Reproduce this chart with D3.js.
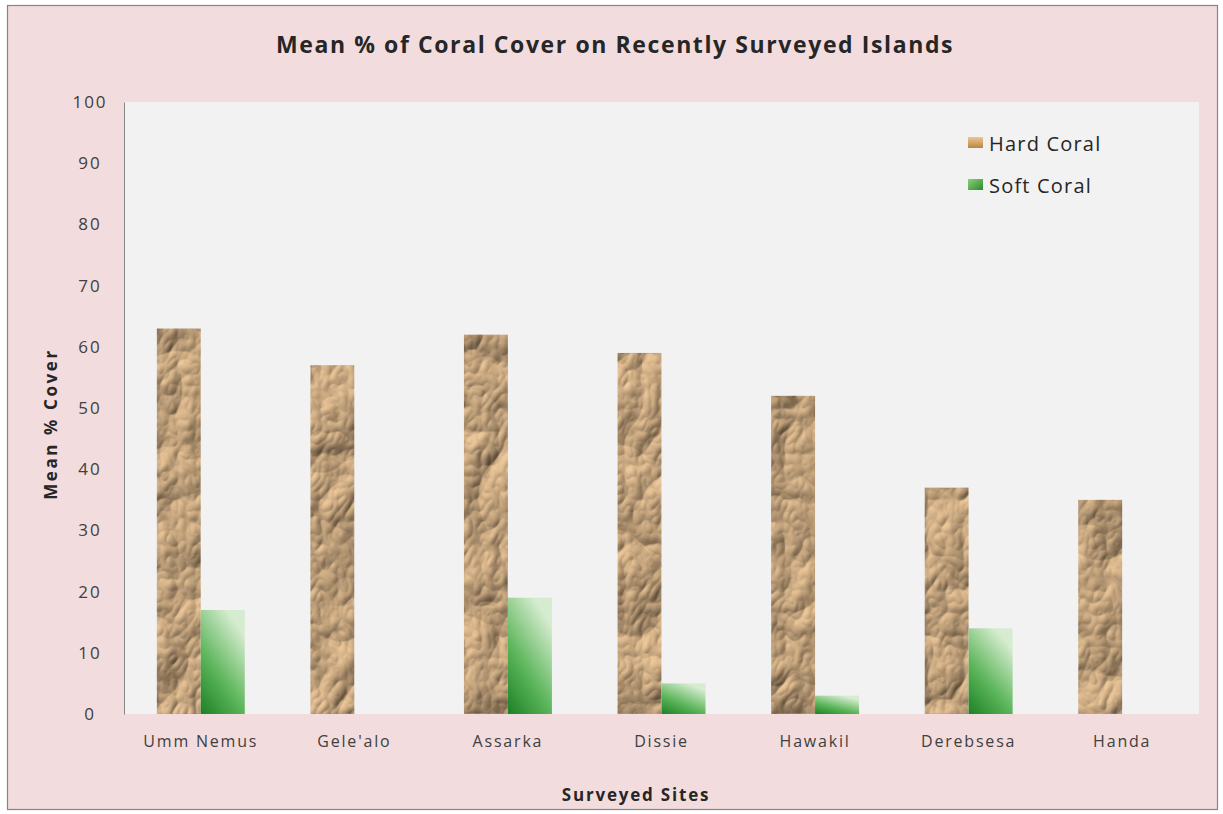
<!DOCTYPE html>
<html>
<head>
<meta charset="utf-8">
<script src="https://cdn.jsdelivr.net/npm/d3@7"></script>
<style>
  body { margin: 0; background: #fff; }
  text { font-family: "Open Sans", Lato, sans-serif; }
</style>
</head>
<body>
<script>
// data
var sites = ["Umm Nemus", "Gele'alo", "Assarka", "Dissie", "Hawakil", "Derebsesa", "Handa"];
var hardCoral = [63, 57, 62, 59, 52, 37, 35];
var softCoral = [17, 0, 19, 5, 3, 14, 0];
var yTicks = [0, 10, 20, 30, 40, 50, 60, 70, 80, 90, 100];
var seriesNames = ["Hard Coral", "Soft Coral"];

var W = 1223, H = 814;
var plot = { left: 124, top: 102, right: 1199, bottom: 714 };

var svg = d3.select("body").append("svg")
    .attr("width", W)
    .attr("height", H);

var defs = svg.append("defs");

// crumpled paper look for hard coral
var f = defs.append("filter").attr("id", "crumple")
    .attr("color-interpolation-filters", "sRGB")
    .attr("x", 0).attr("y", 0).attr("width", 1).attr("height", 1);
f.append("feTurbulence")
    .attr("type", "turbulence")
    .attr("baseFrequency", "0.014 0.011")
    .attr("numOctaves", 4)
    .attr("seed", 5)
    .attr("result", "noise");
f.append("feDiffuseLighting")
    .attr("in", "noise")
    .attr("lighting-color", "#dcbb92")
    .attr("surfaceScale", 7)
    .attr("diffuseConstant", 1.3)
    .attr("result", "light")
    .append("feDistantLight").attr("azimuth", 235).attr("elevation", 40);
f.append("feComposite")
    .attr("in", "light").attr("in2", "SourceGraphic")
    .attr("operator", "arithmetic")
    .attr("k1", 0).attr("k2", 0.65).attr("k3", 0.35).attr("k4", 0)
    .attr("result", "mix");
f.append("feComposite")
    .attr("in", "mix").attr("in2", "SourceGraphic").attr("operator", "in");

// green gradient for soft coral
var g = defs.append("linearGradient").attr("id", "softGrad")
    .attr("x1", "0%").attr("y1", "100%").attr("x2", "60%").attr("y2", "0%");
g.append("stop").attr("offset", "0%").attr("stop-color", "#1d8025");
g.append("stop").attr("offset", "45%").attr("stop-color", "#5cb55a");
g.append("stop").attr("offset", "100%").attr("stop-color", "#d6ecd0");

var lg = defs.append("linearGradient").attr("id", "hardLeg")
    .attr("x1", "0%").attr("y1", "0%").attr("x2", "0%").attr("y2", "100%");
lg.append("stop").attr("offset", "0%").attr("stop-color", "#f0c592");
lg.append("stop").attr("offset", "100%").attr("stop-color", "#b98545");

var lg2 = defs.append("linearGradient").attr("id", "softLeg")
    .attr("x1", "0%").attr("y1", "0%").attr("x2", "100%").attr("y2", "100%");
lg2.append("stop").attr("offset", "0%").attr("stop-color", "#8fcf7e");
lg2.append("stop").attr("offset", "100%").attr("stop-color", "#2a8a2a");

// chart area background + border
svg.append("rect")
    .attr("x", 7.5).attr("y", 5.5)
    .attr("width", 1210).attr("height", 804)
    .attr("fill", "#f2dcdd")
    .attr("stroke", "#8c8282")
    .attr("stroke-width", 1.2);

svg.append("rect")
    .attr("x", plot.left).attr("y", plot.top)
    .attr("width", plot.right - plot.left)
    .attr("height", plot.bottom - plot.top)
    .attr("fill", "#f2f2f2");

// scales
var xScale = d3.scaleBand()
    .domain(sites)
    .range([plot.left, plot.right]);

var yScale = d3.scaleLinear()
    .domain([0, 100])
    .range([plot.bottom, plot.top]);

var barW = 44;

// axes
var yAxis = d3.axisLeft(yScale).tickValues(yTicks).tickSize(0).tickPadding(34);
var yG = svg.append("g")
    .attr("transform", "translate(" + plot.left + ",0)")
    .call(yAxis);
yG.select(".domain").attr("stroke", "#868686").attr("stroke-width", 1);
yG.selectAll("text")
    .attr("font-size", 17)
    .attr("letter-spacing", "2px")
    .attr("fill", "#404040")
    .attr("text-anchor", "middle");

var xAxis = d3.axisBottom(xScale).tickSize(0).tickPadding(22);
var xG = svg.append("g")
    .attr("transform", "translate(0," + plot.bottom + ")")
    .call(xAxis);
xG.select(".domain").remove();
xG.selectAll("text")
    .attr("font-size", 16)
    .attr("letter-spacing", "1.8px")
    .attr("fill", "#404040");

// bars
svg.selectAll(".hard")
    .data(hardCoral)
    .enter().append("rect")
    .attr("class", "hard")
    .attr("x", function (d, i) { return xScale(sites[i]) + xScale.bandwidth() / 2 - barW; })
    .attr("y", function (d) { return yScale(d); })
    .attr("width", barW)
    .attr("height", function (d) { return plot.bottom - yScale(d); })
    .attr("fill", "#c29e74")
    .attr("filter", "url(#crumple)");

svg.selectAll(".soft")
    .data(softCoral)
    .enter().append("rect")
    .attr("class", "soft")
    .attr("x", function (d, i) { return xScale(sites[i]) + xScale.bandwidth() / 2; })
    .attr("y", function (d) { return yScale(d); })
    .attr("width", barW)
    .attr("height", function (d) { return plot.bottom - yScale(d); })
    .attr("fill", "url(#softGrad)");

// title
svg.append("text")
    .attr("x", 615).attr("y", 53)
    .attr("text-anchor", "middle")
    .attr("font-size", 23)
    .attr("font-weight", "bold")
    .attr("letter-spacing", "1.6px")
    .attr("fill", "#262626")
    .text("Mean % of Coral Cover on Recently Surveyed Islands");

// axis titles
svg.append("text")
    .attr("transform", "translate(57,424) rotate(-90)")
    .attr("text-anchor", "middle")
    .attr("font-size", 17)
    .attr("font-weight", "bold")
    .attr("letter-spacing", "2.6px")
    .attr("fill", "#262626")
    .text("Mean % Cover");

svg.append("text")
    .attr("x", 636).attr("y", 801)
    .attr("text-anchor", "middle")
    .attr("font-size", 17)
    .attr("font-weight", "bold")
    .attr("letter-spacing", "1.8px")
    .attr("fill", "#262626")
    .text("Surveyed Sites");

// legend
var leg = svg.selectAll(".legend")
    .data(seriesNames)
    .enter().append("g")
    .attr("class", "legend")
    .attr("transform", function (d, i) { return "translate(968," + (143 + i * 42) + ")"; });

leg.append("rect")
    .attr("x", 0).attr("y", -6)
    .attr("width", 15).attr("height", 11)
    .attr("fill", function (d, i) { return i == 0 ? "url(#hardLeg)" : "url(#softLeg)"; });

leg.append("text")
    .attr("x", 21).attr("y", 8)
    .attr("font-size", 20)
    .attr("letter-spacing", "1.2px")
    .attr("fill", "#262626")
    .text(function (d) { return d; });
</script>
</body>
</html>
